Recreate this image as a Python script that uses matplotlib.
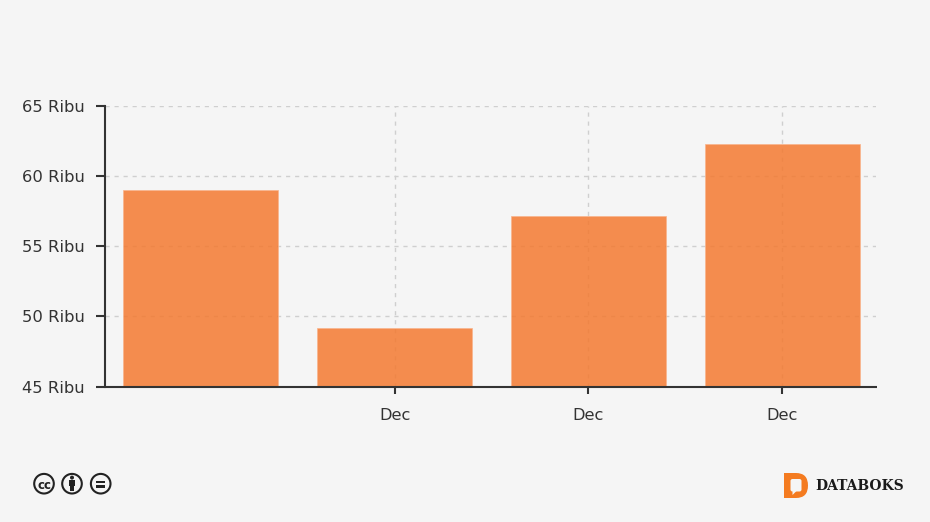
import matplotlib
matplotlib.use("Agg")
import matplotlib.pyplot as plt
from matplotlib.patches import Circle, FancyBboxPatch, PathPatch, Polygon, Rectangle
from matplotlib.path import Path

# === Data ===
positions = [0, 1, 2, 3]
values = [59.0, 49.2, 57.15, 62.3]
tick_positions = [1, 2, 3]
tick_labels = ["Dec", "Dec", "Dec"]
y_ticks = [45, 50, 55, 60, 65]
y_labels = ["45 Ribu", "50 Ribu", "55 Ribu", "60 Ribu", "65 Ribu"]

W, H = 930, 522
BG = "#f5f5f5"
TEXT = "#333333"
ORANGE = "#f47b20"

plt.rcParams["font.family"] = "DejaVu Sans"

fig = plt.figure(figsize=(W / 100, H / 100), dpi=100, facecolor=BG)
ax = fig.add_axes([104.8 / W, 1 - 386.6 / H, (875.5 - 104.8) / W, (386.6 - 106) / H])
ax.set_facecolor(BG)

# === Bars ===
ax.bar(positions, values, width=0.8, color="#f47a31", alpha=0.85,
       edgecolor="#f9b48c", linewidth=0.6, zorder=3)
ax.set_xlim(-0.496, 3.482)
ax.set_ylim(45, 65)

# === Axes ===
ax.set_xticks(tick_positions)
ax.set_xticklabels(tick_labels, fontsize=11.6, color=TEXT)
ax.set_yticks(y_ticks)
ax.set_yticklabels(y_labels, fontsize=11.8, color=TEXT)
ax.tick_params(axis="x", length=5, width=1.5, color="#333333", pad=10.5)
ax.tick_params(axis="y", length=6.5, width=1.5, color="#333333", pad=8)
ax.grid(True, color="#cfcfcf", linestyle=(0, (3, 3.5)), linewidth=1, zorder=1)
ax.set_axisbelow(True)
for side in ["top", "right"]:
    ax.spines[side].set_visible(False)
ax.spines["left"].set_linewidth(1.5)
ax.spines["left"].set_color("#333333")
ax.spines["left"].set_zorder(4)
ax.spines["bottom"].set_visible(False)

# === Footer, drawn in pixel coordinates ===
overlay = fig.add_axes([0, 0, 1, 1], facecolor="none")
overlay.set_xlim(0, W)
overlay.set_ylim(H, 0)
overlay.axis("off")

# x axis line runs a little past the last gridline
overlay.plot([104.8, 877], [386.6, 386.6], color="#333333", linewidth=1.5, solid_capstyle="butt")

ICON = "#222222"
for cx in [44, 72, 100.7]:
    overlay.add_patch(Circle((cx, 483.7), 9.8, facecolor=BG, edgecolor=ICON, linewidth=1.5))

overlay.text(44, 483.7, "cc", fontsize=8.5, fontweight="bold", color=ICON,
             ha="center", va="center_baseline")
overlay.add_patch(Circle((72, 477.6), 2, color=ICON, linewidth=0))
overlay.add_patch(Rectangle((68.8, 480), 6.4, 6, color=ICON, linewidth=0))
overlay.add_patch(Rectangle((70.2, 486), 3.6, 5, color=ICON, linewidth=0))
overlay.add_patch(Rectangle((96.4, 480.7), 8.6, 2.5, color=ICON, linewidth=0))
overlay.add_patch(Rectangle((96.4, 485.1), 8.6, 2.5, color=ICON, linewidth=0))

# D shaped logo with a speech bubble cut out
logo = Path(
    [(784, 473), (796, 473), (808, 473), (808, 485.5), (808, 498), (796, 498), (784, 498), (784, 473)],
    [Path.MOVETO, Path.LINETO, Path.CURVE3, Path.CURVE3, Path.CURVE3, Path.CURVE3, Path.LINETO, Path.CLOSEPOLY],
)
overlay.add_patch(PathPatch(logo, facecolor=ORANGE, edgecolor="none"))
overlay.add_patch(FancyBboxPatch((790.5, 479), 11, 12.5, boxstyle="round,pad=0,rounding_size=2",
                                 facecolor=BG, edgecolor="none"))
overlay.add_patch(Polygon([(792.5, 491), (796.5, 491), (792.5, 495)], facecolor=BG, edgecolor="none"))
overlay.text(815, 485.5, "DATABOKS", fontsize=10, fontweight="bold", family="DejaVu Serif",
             color="#1a1a1a", ha="left", va="center")

fig.savefig("out.png", dpi=100, facecolor=BG)
